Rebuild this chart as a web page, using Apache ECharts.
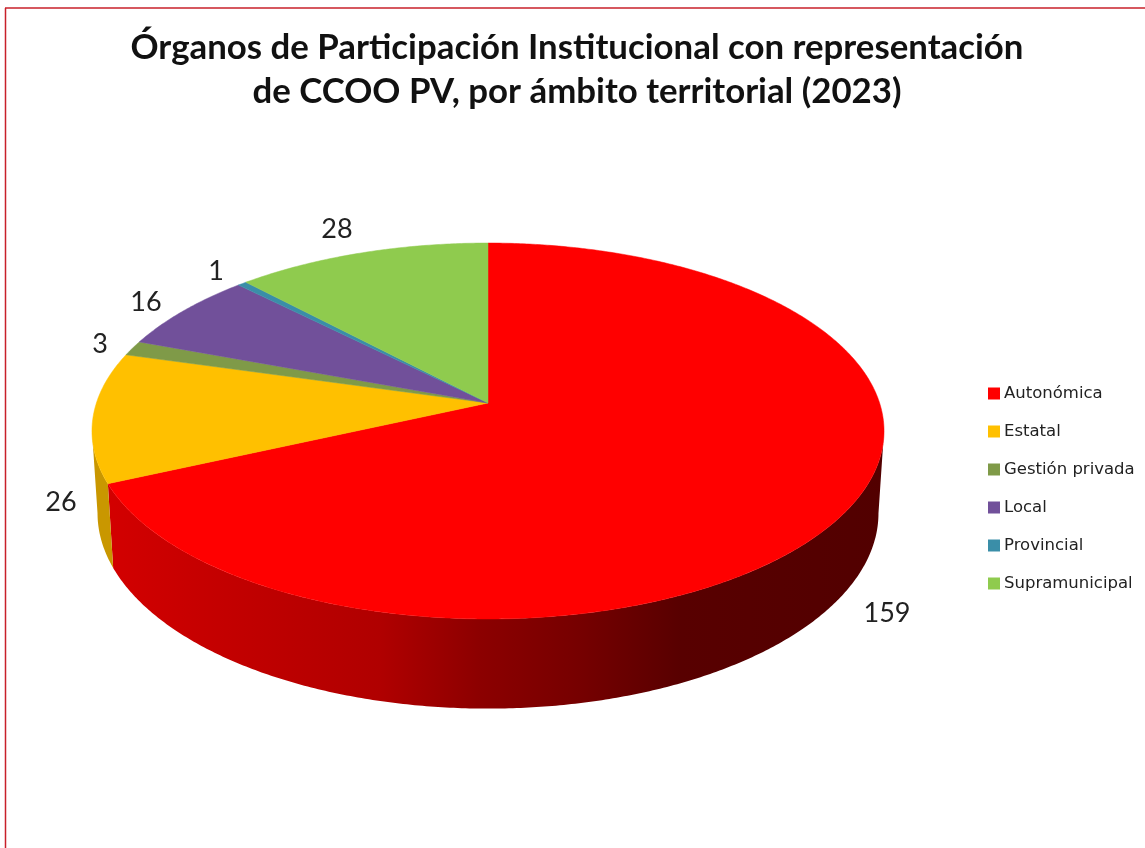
<!DOCTYPE html>
<html>
<head>
<meta charset="utf-8">
<title>Órganos de Participación Institucional</title>
<style>
  html, body { margin: 0; padding: 0; background: #fff; }
  #chart { width: 1145px; height: 848px; }
</style>
<script src="https://cdn.jsdelivr.net/npm/echarts@6/dist/echarts.min.js"></script>
</head>
<body>
<div id="chart"></div>
<script>
var categories = ['Autonómica', 'Estatal', 'Gestión privada', 'Local', 'Provincial', 'Supramunicipal']
var values = [159, 26, 3, 16, 1, 28]
var colors = ['#ff0000', '#ffc000', '#7f9a48', '#71509a', '#3a8ea8', '#8fcb4e']
var wallColors = ['#c00000', '#c99700', '#65793a', '#5a3f7b', '#2e7186', '#72a23e']
// where excel left each number, not on the pie edge so not derived from it
var labelPos = [[887, 613], [61, 502], [100, 344], [146, 302], [216, 271], [337, 229]]

var total = values.reduce(function (a, b) { return a + b }, 0)

// tilted pie with a bit of perspective: unit circle -> screen
var cx = 488, cy = 403, rx = 391.6, ry = 183.8, persp = 0.149
// bottom rim of the wall
var lowSx = 0.986, lowSy = 1.04, lowY = 484
// rim angles of the left/right silhouette, only the front part between them shows a wall
var frontStart = Math.acos(-persp) * 180 / Math.PI
var frontEnd = 360 - frontStart

function project (deg) {
  var a = deg * Math.PI / 180
  var X = Math.sin(a), Y = -Math.cos(a)
  var w = 1 - persp * Y
  return [cx + rx * X / w, cy + ry * Y / w]
}
function projectLow (deg) {
  var p = project(deg)
  return [cx + lowSx * (p[0] - cx), lowY + lowSy * (p[1] - cy)]
}
function sliceAngles (idx) {
  var start = 0
  for (var i = 0; i < idx; i++) start += values[i]
  return [start / total * 360, (start + values[idx]) / total * 360]
}
function arc (fn, a0, a1) {
  var pts = [], n = Math.max(2, Math.ceil((a1 - a0) * 2))
  for (var i = 0; i <= n; i++) pts.push(fn(a0 + (a1 - a0) * i / n))
  return pts
}

function renderWall (params) {
  var ang = sliceAngles(params.dataIndex)
  var a0 = Math.max(ang[0], frontStart)
  var a1 = Math.min(ang[1], frontEnd)
  if (a1 <= a0) return null
  var pts = arc(project, a0, a1).concat(arc(projectLow, a0, a1).reverse())
  var fill = wallColors[params.dataIndex]
  if (params.dataIndex === 0) {
    fill = new echarts.graphic.LinearGradient(100, 0, 885, 0, [
      { offset: 0, color: '#d40000' },
      { offset: 0.13, color: '#c60000' },
      { offset: 0.357, color: '#b00000' },
      { offset: 0.484, color: '#8c0000' },
      { offset: 0.611, color: '#760000' },
      { offset: 0.739, color: '#580000' },
      { offset: 1, color: '#520000' }
    ], true)
  }
  return { type: 'polygon', shape: { points: pts }, style: { fill: fill } }
}

function renderSlice (idx) {
  return function () {
    var ang = sliceAngles(idx)
    var pts = [[cx, cy]].concat(arc(project, ang[0], ang[1]))
    return {
      type: 'group',
      children: [
        { type: 'polygon', shape: { points: pts }, style: { fill: colors[idx], stroke: colors[idx], lineWidth: 0.5 } },
        {
          type: 'text',
          x: labelPos[idx][0],
          y: labelPos[idx][1],
          style: {
            text: String(values[idx]),
            fill: '#222',
            font: '27px Lato',
            textAlign: 'center',
            textVerticalAlign: 'middle'
          }
        }
      ]
    }
  }
}

var series = [{
  type: 'custom',
  coordinateSystem: 'none',
  silent: true,
  z: 1,
  renderItem: renderWall,
  data: values
}]
categories.forEach(function (name, i) {
  series.push({
    name: name,
    type: 'custom',
    coordinateSystem: 'none',
    z: 2,
    itemStyle: { color: colors[i] },
    renderItem: renderSlice(i),
    data: [values[i]]
  })
})

var myChart = echarts.init(document.getElementById('chart'))
myChart.setOption({
  backgroundColor: '#fff',
  animation: false,
  title: {
    text: 'Órganos de Participación Institucional con representación\nde CCOO PV, por ámbito territorial (2023)',
    left: 572,
    top: 21,
    textAlign: 'center',
    textStyle: {
      fontFamily: 'Lato',
      fontWeight: 'bold',
      fontSize: 34.8,
      lineHeight: 44,
      color: '#111'
    }
  },
  legend: {
    orient: 'vertical',
    left: 983,
    top: 380,
    icon: 'rect',
    itemWidth: 12,
    itemHeight: 12,
    itemGap: 21,
    data: categories,
    selectedMode: false,
    textStyle: { fontFamily: 'DejaVu Sans', fontSize: 16.5, lineHeight: 15, color: '#222', padding: [0, 0, 0, -1] }
  },
  graphic: [
    { type: 'line', shape: { x1: 5, y1: 8, x2: 1145, y2: 8 }, style: { stroke: '#c8202a', lineWidth: 1.5 } },
    { type: 'line', shape: { x1: 5.5, y1: 8, x2: 5.5, y2: 848 }, style: { stroke: '#c8202a', lineWidth: 1.5 } }
  ],
  series: series
})
</script>
</body>
</html>
